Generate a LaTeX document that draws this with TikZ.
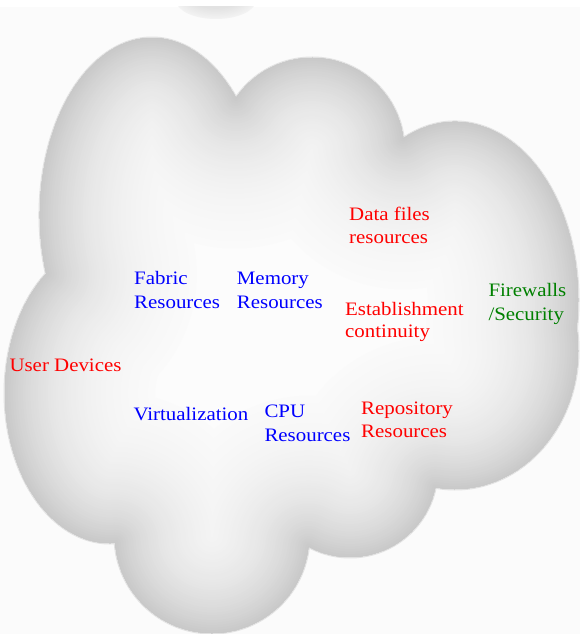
\documentclass[tikz,border=0pt]{standalone}
\usepackage{fontspec}
\setmainfont{Liberation Serif}[FakeStretch=1.1]
\usetikzlibrary{calc}
\definecolor{lblred}{RGB}{255,0,0}
\definecolor{lblblue}{RGB}{0,0,255}
\definecolor{lblgreen}{RGB}{0,128,0}
\definecolor{bgtint}{RGB}{251,251,251}
\definecolor{halo}{RGB}{226,226,226}
\definecolor{cloudcore}{RGB}{252,252,252}
\newcommand\twoline[3][24pt]{\vtop{\baselineskip=#1\relax\hbox{#2}\hbox{#3}}}
\def\cloudpath{($(152,215)+(199.5:112pt and 177pt)$) arc[start angle=199.5, end angle=41.4, x radius=112pt, y radius=177pt]
 -- ($(312,150)+(145.6:92pt and 92pt)$) arc[start angle=145.6, end angle=7.2, radius=92pt]
 -- ($(455,300)+(114.9:123pt and 178pt)$) arc[start angle=114.9, end angle=-9.0, x radius=123pt, y radius=178pt]
 -- ($(455,350)+(9.1:123pt and 139pt)$) arc[start angle=9.1, end angle=-99.2, x radius=123pt, y radius=139pt]
 -- ($(350,470)+(-11.4:87pt and 87pt)$) arc[start angle=-11.4, end angle=-118.5, radius=87pt]
 -- ($(212,536)+(-6.2:97pt and 97pt)$) arc[start angle=-6.2, end angle=-176, radius=97pt]
 -- ($(110,393)+(272.9:105pt and 150pt)$) arc[start angle=272.9, end angle=127.3, x radius=105pt, y radius=150pt]
 -- cycle}
\tikzset{
  lbl/.style={anchor=base west, inner sep=0pt, font=\fontsize{19}{24}\selectfont},
  redlbl/.style={lbl, text=lblred},
  bluelbl/.style={lbl, text=lblblue},
  greenlbl/.style={lbl, text=lblgreen}
}
\begin{document}
\begin{tikzpicture}[x=1pt,y=-1pt]
\useasboundingbox (0,0) rectangle (580,634);
\fill[white] (0,0) rectangle (580,634);
\fill[bgtint] (0,7) rectangle (580,634);
% partial shape at the top edge
\begin{scope}
  \clip (0,7) rectangle (580,40);
  \foreach \k in {0,...,8} {
    \pgfmathtruncatemacro\g{242-2*\k}
    \definecolor{toplayer}{RGB}{\g,\g,\g}
    \pgfmathsetmacro\a{40-2*\k}
    \pgfmathsetmacro\b{19-1.3*\k}
    \fill[toplayer] (216,0) ellipse [x radius=\a pt, y radius=\b pt];
  }
\end{scope}
% cloud: soft outer edge
\draw[halo, line width=3pt, line join=round] \cloudpath;
% cloud: inner shading by distance from the outline
\begin{scope}
  \clip \cloudpath;
  \fill[cloudcore] \cloudpath;
  \foreach \k in {60,59,...,0} {
    \pgfmathsetmacro\d{\k*2.5}
    \pgfmathtruncatemacro\g{255-55*exp(-\d/60)}
    \definecolor{layer}{RGB}{\g,\g,\g}
    \pgfmathsetmacro\w{2*\d+0.6}
    \draw[layer, line width=\w pt, line join=round] \cloudpath;
  }
\end{scope}
% labels
\node[bluelbl] (fabric) at (134,284) {\twoline[24.3pt]{Fabric}{Resources}};
\node[bluelbl] (memory) at (236.7,284) {\twoline[24.3pt]{Memory}{Resources}};
\node[redlbl] (datafiles) at (349,220) {\twoline[23.3pt]{Data files}{resources}};
\node[redlbl] (establish) at (345,315) {\twoline[22.7pt]{Establishment}{continuity}};
\node[greenlbl] (firewalls) at (488.3,296.7) {\twoline[24pt]{Firewalls}{/Security}};
\node[redlbl] (userdev) at (9.3,371.7) {User Devices};
\node[bluelbl] (virt) at (133.3,420) {Virtualization};
\node[bluelbl] (cpu) at (264.3,417.7) {\twoline[23.3pt]{CPU}{Resources}};
\node[redlbl] (repo) at (361,414) {\twoline[23.3pt]{Repository}{Resources}};
\end{tikzpicture}
\end{document}
